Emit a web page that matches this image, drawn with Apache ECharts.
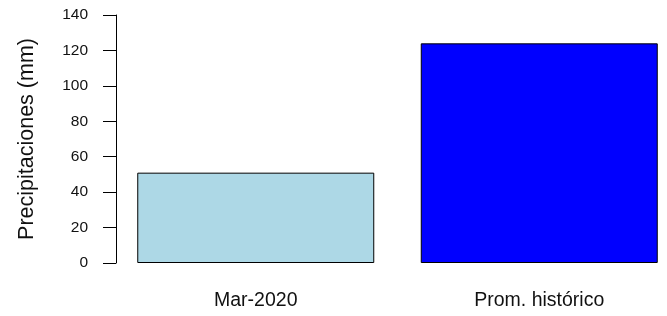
<!DOCTYPE html>
<html>
<head>
<meta charset="utf-8">
<script src="https://cdn.jsdelivr.net/npm/echarts@6/dist/echarts.min.js"></script>
<style>
  html, body { margin: 0; padding: 0; background: #fff; }
  #bar { width: 667px; height: 316px; }
</style>
</head>
<body>
<div id="bar"></div>
<script>
  // data
  const categories = ['Mar-2020', 'Prom. histórico']
  const values = [51, 124]
  const barColors = ['#ADD8E6', '#0000FF']
  const yTicks = [0, 20, 40, 60, 80, 100, 120, 140]

  const chart = echarts.init(document.getElementById('bar'))
  const font = 'Liberation Sans, Arial, sans-serif'

  const option = {
    animation: false,
    backgroundColor: '#fff',
    grid: {
      left: 114,
      top: 15,
      width: 567,
      bottom: 53,
      containLabel: false,
      outerBoundsMode: 'none'
    },
    xAxis: {
      type: 'category',
      data: categories,
      axisLine: { show: false },
      axisTick: { show: false },
      axisLabel: {
        margin: 28,
        fontSize: 19.5,
        color: '#111',
        fontFamily: font
      }
    },
    yAxis: {
      type: 'value',
      min: yTicks[0],
      max: yTicks[yTicks.length - 1],
      interval: 20,
      offset: -2,
      name: 'Precipitaciones (mm)',
      nameLocation: 'middle',
      nameGap: 78,
      nameTextStyle: {
        fontSize: 21.5,
        color: '#111',
        fontFamily: font
      },
      axisLine: { show: true, lineStyle: { color: '#000', width: 1 } },
      axisTick: { show: true, inside: false, length: 13, lineStyle: { color: '#000' } },
      splitLine: { show: false },
      axisLabel: {
        margin: 28,
        fontSize: 15.5,
        color: '#111',
        fontFamily: font
      }
    },
    series: [{
      type: 'bar',
      barWidth: 237,
      data: values.map((v, i) => ({
        value: v,
        itemStyle: { color: barColors[i] }
      })),
      itemStyle: {
        borderColor: '#000',
        borderWidth: 1
      }
    }]
  }
  chart.setOption(option)
</script>
</body>
</html>
